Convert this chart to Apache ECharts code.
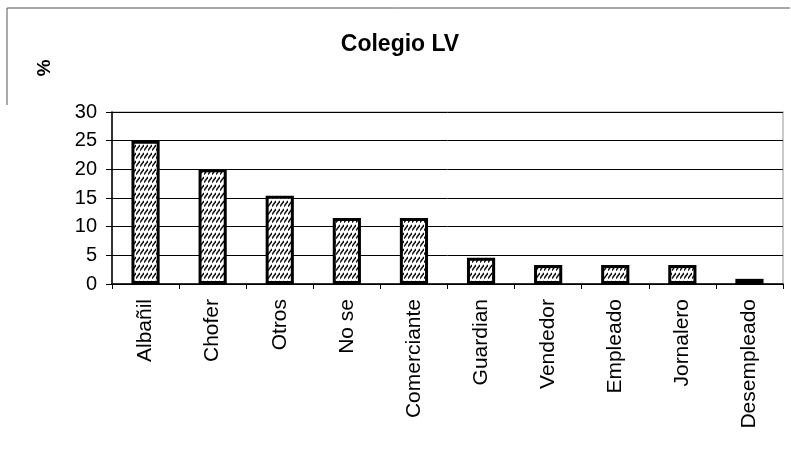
<!DOCTYPE html>
<html><head><meta charset="utf-8">
<script src="https://cdn.jsdelivr.net/npm/echarts@6/dist/echarts.min.js"></script>
<style>html,body{margin:0;padding:0;background:#fff}#c{width:791px;height:453px}</style>
</head><body><div id="c"></div>
<script>
const categories = ['Albañil','Chofer','Otros','No se','Comerciante','Guardian','Vendedor','Empleado','Jornalero','Desempleado'];
const values = [25, 20, 15.4, 11.5, 11.5, 4.6, 3.3, 3.3, 3.3, 0.9];
const yTicks = [0, 5, 10, 15, 20, 25, 30];

const pc = document.createElement('canvas');
pc.width = 4; pc.height = 8;
const g = pc.getContext('2d');
g.fillStyle = '#fff'; g.fillRect(0,0,4,8);
g.strokeStyle = '#111'; g.lineWidth = 1.4;
g.beginPath(); g.moveTo(0,6.5); g.lineTo(4,1); g.stroke();

const chart = echarts.init(document.getElementById('c'));
chart.setOption({
  animation:false,
  title:{text:'Colegio LV', left:395, top:28, textAlign:'center',
    textStyle:{fontFamily:'Liberation Sans, Arial', fontSize:23, fontWeight:'bold', color:'#000'}},
  graphic:[
    {type:'text', x:42, y:68, rotation:-Math.PI/2, style:{text:'%', font:'bold 19px Liberation Sans', fill:'#000', align:'center', verticalAlign:'middle'}},
    {type:'line', shape:{x1:7,y1:8,x2:790,y2:8}, style:{stroke:'#555', lineWidth:1}},
    {type:'line', shape:{x1:7,y1:8,x2:7,y2:105}, style:{stroke:'#555', lineWidth:1}},
    {type:'rect', shape:{x:112,y:112,width:671,height:172}, style:{fill:'none', stroke:'#bbb', lineWidth:1.5}, z:-1}
  ],
  grid:{left:112, right:8, top:112, bottom:169},
  xAxis:{type:'category', data:categories,
    axisLine:{lineStyle:{color:'#000', width:1.5}},
    axisTick:{show:true, length:5, lineStyle:{color:'#000'}},
    axisLabel:{rotate:90, color:'#000', fontFamily:'Liberation Sans, Arial', fontSize:21, margin:15}},
  yAxis:{type:'value', min:0, max:30, interval:5,
    axisLine:{show:true, lineStyle:{color:'#000', width:1.5}},
    axisTick:{show:true, length:6, lineStyle:{color:'#000'}},
    splitLine:{lineStyle:{color:'#000', width:1}},
    axisLabel:{color:'#000', fontFamily:'Liberation Sans, Arial', fontSize:20, margin:15,
      formatter:v=>yTicks.includes(v)?String(v):''}},
  series:[{type:'bar', data:values, barWidth:'42%',
    itemStyle:{color:{image:pc, repeat:'repeat'}, borderColor:'#000', borderWidth:3}}]
});
</script></body></html>
